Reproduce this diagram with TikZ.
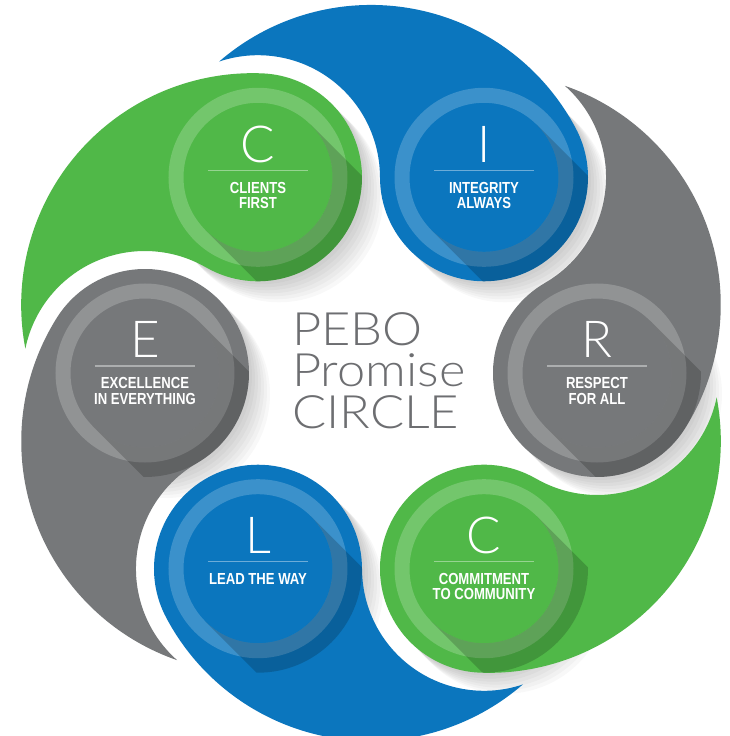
\documentclass[tikz,border=0pt]{standalone}
\usepackage{fontspec}
\newfontfamily\thinfont{Lato Light}
\newfontfamily\titlefont[FakeStretch=1.1]{Lato Light}
\newfontfamily\labelfont[FakeStretch=0.82]{Liberation Sans}
\definecolor{pgreen}{HTML}{50B848}
\definecolor{pblue}{HTML}{0B76BE}
\definecolor{pgray}{HTML}{76787A}
\definecolor{ptext}{HTML}{6D6E71}
\tikzset{
  bigletter/.style={white, anchor=base, inner sep=0pt, font=\thinfont\fontsize{51}{51}\selectfont},
  petallabel/.style={white, anchor=base, inner sep=0pt, font=\labelfont\bfseries\fontsize{16}{16}\selectfont},
  centretext/.style={ptext, anchor=north west, inner sep=0pt, align=left,
    font=\titlefont\fontsize{46}{41.5}\selectfont},
  divider/.style={white, opacity=0.4, line width=1.2pt},
  ringband/.style={white, opacity=0.2, even odd rule},
  innershade/.style={black, opacity=0.18},
  castshade/.style={black, opacity=0.028}
}
% petal outline: own circle at (226,0), tail sweeping counter-clockwise
\newcommand{\petalfill}[2]{%
  \fill[#1, rotate=#2] (226,0) ++(120:104)
    arc[start angle=120, end angle=327.7, radius=104]
    arc[start angle=-32.3, end angle=70.9, radius=231.7]
    arc[start angle=48.5, end angle=-60, radius=122] -- cycle;}
\newcommand{\castshadow}[2]{%
  \foreach \t in {3,6,...,21} {\fill[castshade] (#1+\t,#2-\t) circle[radius=104];}}
\newcommand{\ringshade}[2]{%
  \begin{scope}
    \clip (#1,#2) circle[radius=104];
    \fill[ringband] (#1,#2) circle[radius=89.5] (#1,#2) circle[radius=74.5];
    \fill[innershade] (#1,#2) ++(45:74.5) -- ++(-45:260) -- ++(225:149) -- ++(135:260)
      arc[start angle=225, end angle=405, radius=74.5] -- cycle;
  \end{scope}
  \draw[divider] (#1-50,#2+7) -- (#1+50,#2+7);}
\begin{document}
\begin{tikzpicture}[x=1pt,y=1pt]
\useasboundingbox (-371,-363) rectangle (358,373);
\fill[white] (-371,-363) rectangle (358,373);
% cast shadows on the background
\castshadow{226}{0}
\castshadow{113}{195.7}
\castshadow{-113}{195.7}
\castshadow{-226}{0}
\castshadow{-113}{-195.7}
\castshadow{113}{-195.7}
% petals
\petalfill{pgray}{0}
\petalfill{pblue}{60}
\petalfill{pgreen}{120}
\petalfill{pgray}{180}
\petalfill{pblue}{240}
\petalfill{pgreen}{300}
% rings and shading
\ringshade{226}{0}
\ringshade{113}{195.7}
\ringshade{-113}{195.7}
\ringshade{-226}{0}
\ringshade{-113}{-195.7}
\ringshade{113}{-195.7}
% letters and labels
\node[bigletter] (cl) at (-113,210.7) {C};
\node[petallabel] (cl1) at (-113,179.7) {CLIENTS};
\node[petallabel] (cl2) at (-113,164.7) {FIRST};
\node[bigletter] (il) at (113,210.7) {I};
\node[petallabel] (il1) at (113,179.7) {INTEGRITY};
\node[petallabel] (il2) at (113,164.7) {ALWAYS};
\node[bigletter] (rl) at (226,15) {R};
\node[petallabel] (rl1) at (226,-16) {RESPECT};
\node[petallabel] (rl2) at (226,-31) {FOR ALL};
\node[bigletter] (el) at (-226,15) {E};
\node[petallabel] (el1) at (-226,-16) {EXCELLENCE};
\node[petallabel] (el2) at (-226,-31) {IN EVERYTHING};
\node[bigletter] (ll) at (-113,-180.7) {L};
\node[petallabel] (ll1) at (-113,-211.7) {LEAD THE WAY};
\node[bigletter] (cc) at (113,-180.7) {C};
\node[petallabel] (cc1) at (113,-211.7) {COMMITMENT};
\node[petallabel] (cc2) at (113,-226.7) {TO COMMUNITY};
% centre title
\node[centretext] (title) at (-79,61) {PEBO\\Promise\\CIRCLE};
\end{tikzpicture}
\end{document}
